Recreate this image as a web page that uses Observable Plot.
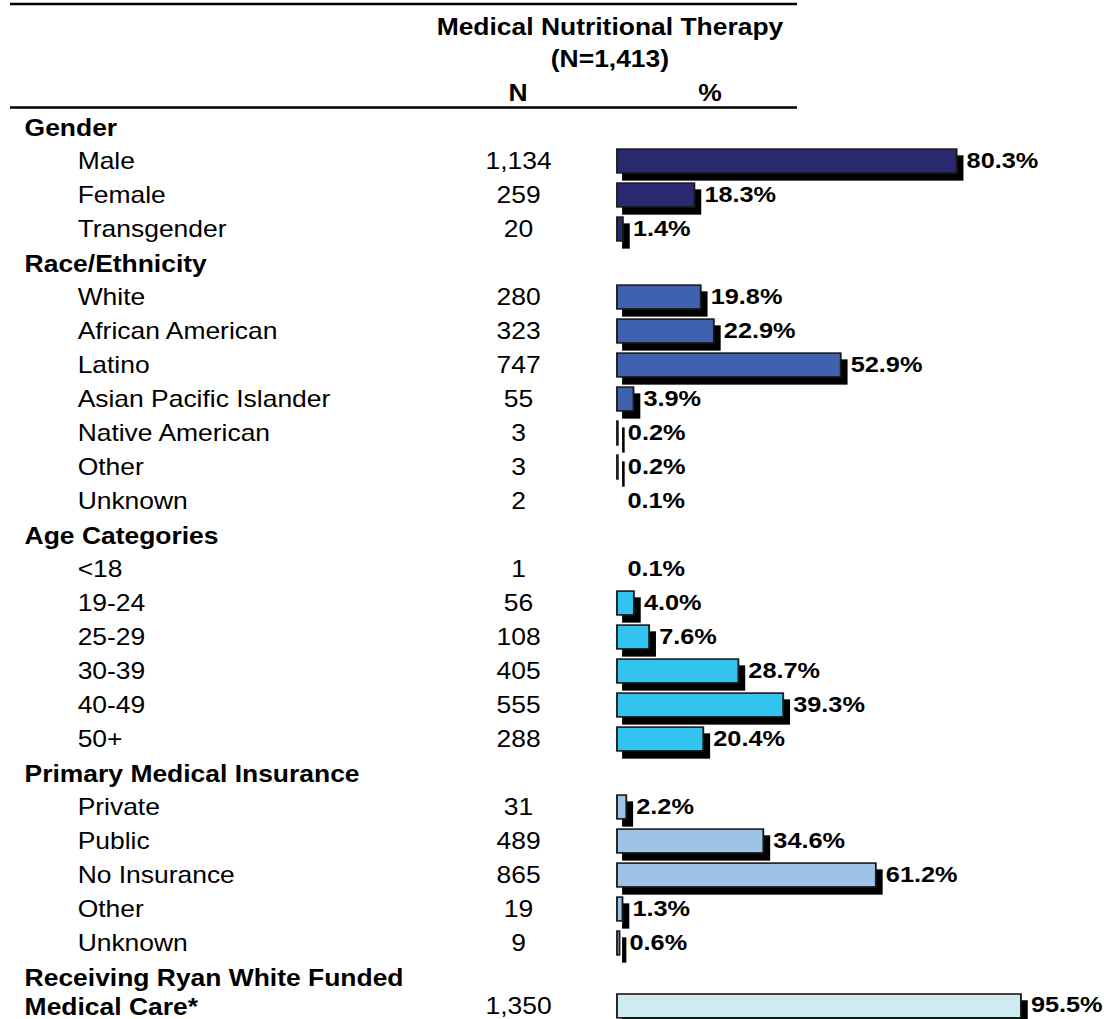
<!DOCTYPE html>
<html><head><meta charset="utf-8">
<script src="https://cdn.jsdelivr.net/npm/d3@7"></script>
<script src="https://cdn.jsdelivr.net/npm/@observablehq/plot@0.6"></script>
<style>
html,body{margin:0;padding:0;background:#fff;}
#chart svg{display:block;}
</style></head><body><div id="chart"></div>
<script>
// ---- data ----
const title = "Medical Nutritional Therapy";
const subtitle = "(N=1,413)";
const colHeaders = ["N", "%"];

const sectionNames = ["Gender", "Race/Ethnicity", "Age Categories", "Primary Medical Insurance"];
const sectionColors = ["#29296f", "#4061ad", "#33c3ef", "#9dc3e6"];

const genderLabels = ["Male", "Female", "Transgender"];
const genderN = [1134, 259, 20];
const genderPct = [80.3, 18.3, 1.4];

const raceLabels = ["White", "African American", "Latino", "Asian Pacific Islander", "Native American", "Other", "Unknown"];
const raceN = [280, 323, 747, 55, 3, 3, 2];
const racePct = [19.8, 22.9, 52.9, 3.9, 0.2, 0.2, 0.1];

const ageLabels = ["<18", "19-24", "25-29", "30-39", "40-49", "50+"];
const ageN = [1, 56, 108, 405, 555, 288];
const agePct = [0.1, 4.0, 7.6, 28.7, 39.3, 20.4];

const insLabels = ["Private", "Public", "No Insurance", "Other", "Unknown"];
const insN = [31, 489, 865, 19, 9];
const insPct = [2.2, 34.6, 61.2, 1.3, 0.6];

const ryanLabelLines = ["Receiving Ryan White Funded", "Medical Care*"];
const ryanN = 1350;
const ryanPct = 95.5;
const ryanColor = "#ceebf0";

// ---- build table (row = line index of the table) ----
const rows = [];
let r = 0;
[[genderLabels, genderN, genderPct], [raceLabels, raceN, racePct], [ageLabels, ageN, agePct], [insLabels, insN, insPct]]
  .forEach(([labels, ns, pcts], s) => {
    rows.push({row: r++, label: sectionNames[s], header: true});
    labels.forEach((l, i) => rows.push({row: r++, label: l, n: ns[i], pct: pcts[i], color: sectionColors[s]}));
  });
rows.push({row: r, label: ryanLabelLines[0], header: true});
rows.push({row: r + 0.85, label: ryanLabelLines[1], header: true, n: ryanN, pct: ryanPct, color: ryanColor}); // wrapped second line

const withVal = rows.filter(d => d.pct != null);
const bars = withVal.filter(d => d.pct >= 0.15);

// ---- layout ----
const S = 1.15;              // horizontal stretch of the original
const W = 1104 / S, H = 1019;
const FONT = "Liberation Sans, Arial, Helvetica, sans-serif";
const FS = 23;
const HALF = 0.35;           // half bar thickness, in rows
const fmtN = d3.format(",");
const fmtP = d => d3.format(".1f")(d) + "%";

const headerMark = () => {
  const g = d3.create("svg:g").attr("font-family", FONT).attr("font-size", FS).attr("font-weight", "bold").attr("fill", "#000");
  g.append("line").attr("x1", 8.7).attr("x2", 693).attr("y1", 4).attr("y2", 4).attr("stroke", "#000").attr("stroke-width", 2.5);
  g.append("line").attr("x1", 8.7).attr("x2", 693).attr("y1", 107.5).attr("y2", 107.5).attr("stroke", "#000").attr("stroke-width", 2.5);
  g.append("text").attr("x", 530.4).attr("y", 35).attr("text-anchor", "middle").text(title);
  g.append("text").attr("x", 530.4).attr("y", 67).attr("text-anchor", "middle").text(subtitle);
  g.append("text").attr("x", 450.4).attr("y", 101).attr("text-anchor", "middle").text(colHeaders[0]);
  g.append("text").attr("x", 617.4).attr("y", 101).attr("text-anchor", "middle").text(colHeaders[1]);
  return g.node();
};

const barOpts = {x1: () => 0, x2: "pct", y1: d => d.row - HALF, y2: d => d.row + HALF};

const svg = Plot.plot({
  width: W, height: H, margin: 0,
  style: {fontFamily: FONT, fontSize: FS + "px", background: "#fff"},
  x: {domain: [0, 100], range: [536.5, 904.3], axis: null},
  y: {type: "linear", domain: [0, 26], range: [127, 1011], axis: null},
  color: {type: "identity"},
  marks: [
    headerMark,
    Plot.rect(bars, {...barOpts, fill: "#000", stroke: "#000", strokeWidth: 1.5, dx: 5.2, dy: 7}),
    Plot.rect(bars, {...barOpts, fill: "color", stroke: "#1a1a1a", strokeWidth: 1.6}),
    Plot.text(rows.filter(d => d.header), {y: "row", text: "label", frameAnchor: "left", textAnchor: "start", dx: 20.9, dy: 1, fontWeight: "bold", fontSize: FS, fill: "#000"}),
    Plot.text(rows.filter(d => !d.header), {y: "row", text: "label", frameAnchor: "left", textAnchor: "start", dx: 67, fontSize: FS, fill: "#000"}),
    Plot.text(withVal, {y: "row", text: d => fmtN(d.n), frameAnchor: "left", textAnchor: "middle", dx: 450.4, fontSize: FS, fill: "#000"}),
    Plot.text(withVal, {x: "pct", y: "row", text: d => fmtP(d.pct), textAnchor: "start", dx: 8.2, dy: -1, fontWeight: "bold", fontSize: 22, fill: "#000"})
  ]
});
svg.setAttribute("preserveAspectRatio", "none");
svg.style.maxWidth = "none";
svg.style.width = "1104px";
svg.style.height = "1019px";
document.getElementById("chart").appendChild(svg);
</script>
</body></html>
